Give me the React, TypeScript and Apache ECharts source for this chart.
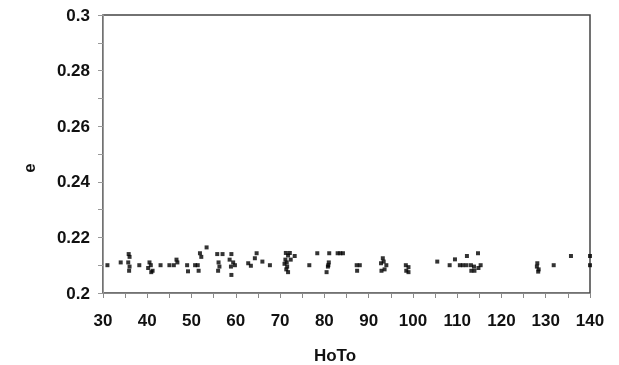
import React, { useEffect, useRef } from "react";
import * as echarts from "echarts";

const hotoValues = [
  31, 34, 35.8, 36, 35.7, 36, 35.9, 38.2,
  40.5, 40.8, 40.2, 40.9, 41.2, 43, 45, 46, 46.8, 46.6, 49, 49.2,
  50.8, 51.4, 51.6, 51.9, 52.2, 53.4, 55.8, 57, 56.1, 56.3, 56,
  59, 58.6, 59.4, 59.8, 58.9, 59, 62.8, 63.4, 64.3, 64.7, 66, 67.7,
  71.3, 71.8, 71.2, 71.5, 71.0, 71.6, 71.4, 71.8, 72.2, 72.4, 73.3,
  76.6, 78.4, 81.1, 81.0, 80.8, 80.5, 80.9, 83, 83.6, 84.2,
  87.3, 88, 87.4, 92.8, 93.4, 93.2, 92.9, 93.6, 94.0,
  98.4, 99, 98.5, 99, 105.5, 108.3, 109.5, 110.6, 111.3, 112.1, 112.2,
  113.1, 113.8, 113.2, 113.9, 114.7, 115.3, 114.8,
  128.1, 128.0, 128.3, 128.4, 131.8, 135.7, 140, 140,
];
const eValues = [
  0.210, 0.211, 0.214, 0.213, 0.211, 0.2095, 0.208, 0.210,
  0.211, 0.210, 0.209, 0.2075, 0.208, 0.210, 0.210, 0.210, 0.211, 0.212, 0.210, 0.2078,
  0.210, 0.210, 0.208, 0.2143, 0.213, 0.2164, 0.214, 0.214, 0.211, 0.2095, 0.208,
  0.214, 0.212, 0.211, 0.210, 0.2095, 0.2065, 0.2107, 0.2098, 0.2125, 0.2143, 0.2113, 0.210,
  0.2144, 0.2135, 0.212, 0.211, 0.2105, 0.2095, 0.2085, 0.2075, 0.2144, 0.212, 0.2133,
  0.210, 0.2143, 0.2143, 0.211, 0.2095, 0.2075, 0.210, 0.2143, 0.2143, 0.2143,
  0.210, 0.210, 0.208, 0.2107, 0.2113, 0.2125, 0.208, 0.2085, 0.210,
  0.210, 0.2093, 0.208, 0.2075, 0.2113, 0.210, 0.2121, 0.210, 0.210, 0.210, 0.2133,
  0.210, 0.2095, 0.208, 0.208, 0.2143, 0.210, 0.209,
  0.2107, 0.2095, 0.2077, 0.2085, 0.210, 0.2133, 0.2133, 0.210,
];

const xTitle = "HoTo";
const yTitle = "e";

export default function App() {
  const ref = useRef<HTMLDivElement>(null);
  useEffect(() => {
    if (!ref.current) return;
    const chart = echarts.init(ref.current, null, { renderer: "svg" });
    const font = "'Liberation Sans', Arial, sans-serif";
    const data = hotoValues.map((x, i) => [x, eValues[i]]);
    chart.setOption({
      animation: false,
      grid: {
        left: 103,
        right: 29,
        top: 15,
        bottom: 72,
        show: true,
        borderColor: "#444",
        borderWidth: 1.5,
        backgroundColor: "#fff",
      },
      xAxis: {
        type: "value",
        min: 30,
        max: 140,
        interval: 10,
        axisLine: { show: true, lineStyle: { color: "#888", width: 1 } },
        axisTick: { show: true, length: 5, lineStyle: { color: "#888" } },
        minorTick: { show: true, splitNumber: 2, length: 5, lineStyle: { color: "#888" } },
        splitLine: { show: false },
        axisLabel: {
          margin: 19,
          color: "#111",
          fontFamily: font,
          fontWeight: "bold",
          fontSize: 17,
        },
      },
      yAxis: {
        type: "value",
        min: 0.2,
        max: 0.3,
        interval: 0.02,
        axisLine: { show: true, lineStyle: { color: "#999", width: 1 } },
        axisTick: { show: true, length: 5, lineStyle: { color: "#999" } },
        minorTick: { show: true, splitNumber: 2, length: 5, lineStyle: { color: "#999" } },
        splitLine: { show: false },
        axisLabel: {
          margin: 13,
          color: "#111",
          fontFamily: font,
          fontWeight: "bold",
          fontSize: 17,
          formatter: (v: number) => String(+v.toFixed(2)),
        },
      },
      graphic: [
        {
          type: "text",
          x: 335,
          y: 355,
          style: {
            text: xTitle,
            fill: "#111",
            font: `bold 17px ${font}`,
            textAlign: "center",
            textVerticalAlign: "middle",
          },
        },
        {
          type: "text",
          x: 29,
          y: 168,
          rotation: Math.PI / 2,
          style: {
            text: yTitle,
            fill: "#111",
            font: `bold 17px ${font}`,
            textAlign: "center",
            textVerticalAlign: "middle",
          },
        },
      ],
      series: [
        {
          type: "scatter",
          data,
          symbol: "rect",
          symbolSize: 4,
          clip: false,
          itemStyle: { color: "#000" },
        },
      ],
    });
    return () => chart.dispose();
  }, []);
  return (
    <div
      ref={ref}
      style={{ position: "fixed", left: 0, top: 0, width: 619, height: 365 }}
    />
  );
}
